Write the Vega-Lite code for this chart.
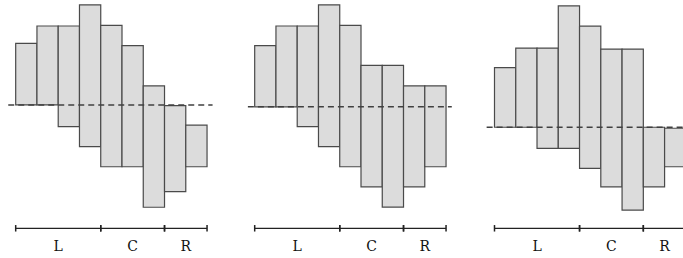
{
  "$schema": "https://vega.github.io/schema/vega-lite/v6.json",
  "padding": 0,
  "spacing": 0,
  "config": {"view": {"stroke": null}},
  "datasets": {
    "bars": [
      {"panel": "A", "bar": 1, "start": 0, "end": 1, "low": 6.09, "high": 9.13},
      {"panel": "A", "bar": 2, "start": 1, "end": 2, "low": 6.09, "high": 9.99},
      {"panel": "A", "bar": 3, "start": 2, "end": 3, "low": 5.02, "high": 9.99},
      {"panel": "A", "bar": 4, "start": 3, "end": 4, "low": 4.03, "high": 11.03},
      {"panel": "A", "bar": 5, "start": 4, "end": 5, "low": 3.04, "high": 10.02},
      {"panel": "A", "bar": 6, "start": 5, "end": 6, "low": 3.04, "high": 9.02},
      {"panel": "A", "bar": 7, "start": 6, "end": 7, "low": 1.04, "high": 7.03},
      {"panel": "A", "bar": 8, "start": 7, "end": 8, "low": 1.81, "high": 6.06},
      {"panel": "A", "bar": 9, "start": 8, "end": 9, "low": 3.04, "high": 5.09},
      {"panel": "B", "bar": 1, "start": 0, "end": 1, "low": 6.0, "high": 9.02},
      {"panel": "B", "bar": 2, "start": 1, "end": 2, "low": 6.0, "high": 9.99},
      {"panel": "B", "bar": 3, "start": 2, "end": 3, "low": 5.02, "high": 9.99},
      {"panel": "B", "bar": 4, "start": 3, "end": 4, "low": 4.03, "high": 11.03},
      {"panel": "B", "bar": 5, "start": 4, "end": 5, "low": 3.04, "high": 10.02},
      {"panel": "B", "bar": 6, "start": 5, "end": 6, "low": 2.05, "high": 8.05},
      {"panel": "B", "bar": 7, "start": 6, "end": 7, "low": 1.05, "high": 8.05},
      {"panel": "B", "bar": 8, "start": 7, "end": 8, "low": 2.05, "high": 7.03},
      {"panel": "B", "bar": 9, "start": 8, "end": 9, "low": 3.04, "high": 7.03},
      {"panel": "C", "bar": 1, "start": 0, "end": 1, "low": 4.99, "high": 7.93},
      {"panel": "C", "bar": 2, "start": 1, "end": 2, "low": 4.99, "high": 8.9},
      {"panel": "C", "bar": 3, "start": 2, "end": 3, "low": 3.95, "high": 8.9},
      {"panel": "C", "bar": 4, "start": 3, "end": 4, "low": 3.95, "high": 10.98},
      {"panel": "C", "bar": 5, "start": 4, "end": 5, "low": 2.96, "high": 9.98},
      {"panel": "C", "bar": 6, "start": 5, "end": 6, "low": 2.05, "high": 8.85},
      {"panel": "C", "bar": 7, "start": 6, "end": 7, "low": 0.9, "high": 8.85},
      {"panel": "C", "bar": 8, "start": 7, "end": 8, "low": 2.05, "high": 4.99},
      {"panel": "C", "bar": 9, "start": 8, "end": 9, "low": 3.04, "high": 4.94}
    ],
    "baselines": [
      {"panel": "A", "level": 6.09, "start": -0.35, "end": 9.26},
      {"panel": "B", "level": 6.0, "start": -0.32, "end": 9.27},
      {"panel": "C", "level": 4.99, "start": -0.37, "end": 9.3}
    ],
    "segments": [
      {"panel": "A", "zone": "L", "start": 0, "end": 4},
      {"panel": "A", "zone": "C", "start": 4, "end": 7},
      {"panel": "A", "zone": "R", "start": 7, "end": 9},
      {"panel": "B", "zone": "L", "start": 0, "end": 4},
      {"panel": "B", "zone": "C", "start": 4, "end": 7},
      {"panel": "B", "zone": "R", "start": 7, "end": 9},
      {"panel": "C", "zone": "L", "start": 0, "end": 4},
      {"panel": "C", "zone": "C", "start": 4, "end": 7},
      {"panel": "C", "zone": "R", "start": 7, "end": 9}
    ]
  },
  "hconcat": [
    {
      "width": 239, "height": 258,
      "layer": [
        {"data": {"name": "bars"}, "transform": [{"filter": "datum.panel === 'A'"}],
         "mark": {"type": "rect", "fill": "#dcdcdc", "stroke": "#4a4a4a", "strokeWidth": 1.2, "clip": true},
         "encoding": {
           "x": {"field": "start", "type": "quantitative", "scale": {"domain": [-0.738, 10.503], "nice": false, "zero": false}, "axis": null},
           "x2": {"field": "end"},
           "y": {"field": "high", "type": "quantitative", "scale": {"domain": [-1.467, 11.274], "nice": false, "zero": false}, "axis": null},
           "y2": {"field": "low"}}},
        {"data": {"name": "baselines"}, "transform": [{"filter": "datum.panel === 'A'"}],
         "mark": {"type": "rule", "stroke": "#404040", "strokeWidth": 1.6, "strokeDash": [6, 4], "clip": true},
         "encoding": {"x": {"field": "start", "type": "quantitative"}, "x2": {"field": "end"}, "y": {"field": "level", "type": "quantitative"}}},
        {"data": {"name": "segments"}, "transform": [{"filter": "datum.panel === 'A'"}],
         "mark": {"type": "rule", "stroke": "#222222", "strokeWidth": 1.2, "clip": true},
         "encoding": {"x": {"field": "start", "type": "quantitative"}, "x2": {"field": "end"}, "y": {"datum": 0}}},
        {"data": {"name": "segments"}, "transform": [{"filter": "datum.panel === 'A'"}],
         "mark": {"type": "rule", "stroke": "#222222", "strokeWidth": 1.5, "clip": true},
         "encoding": {"x": {"field": "start", "type": "quantitative"}, "y": {"datum": -0.16}, "y2": {"datum": 0.16}}},
        {"data": {"name": "segments"}, "transform": [{"filter": "datum.panel === 'A'"}],
         "mark": {"type": "rule", "stroke": "#222222", "strokeWidth": 1.5, "clip": true},
         "encoding": {"x": {"field": "end", "type": "quantitative"}, "y": {"datum": -0.16}, "y2": {"datum": 0.16}}},
        {"data": {"name": "segments"}, "transform": [{"filter": "datum.panel === 'A'"}, {"calculate": "(datum.start + datum.end) / 2", "as": "mid"}],
         "mark": {"type": "text", "font": "DejaVu Serif", "fontSize": 14, "color": "#111111", "baseline": "alphabetic", "align": "center"},
         "encoding": {"x": {"field": "mid", "type": "quantitative"}, "y": {"datum": -1.12}, "text": {"field": "zone"}}}
      ]
    },
    {
      "width": 240, "height": 258,
      "layer": [
        {"data": {"name": "bars"}, "transform": [{"filter": "datum.panel === 'B'"}],
         "mark": {"type": "rect", "fill": "#dcdcdc", "stroke": "#4a4a4a", "strokeWidth": 1.2, "clip": true},
         "encoding": {
           "x": {"field": "start", "type": "quantitative", "scale": {"domain": [-0.738, 10.55], "nice": false, "zero": false}, "axis": null},
           "x2": {"field": "end"},
           "y": {"field": "high", "type": "quantitative", "scale": {"domain": [-1.467, 11.274], "nice": false, "zero": false}, "axis": null},
           "y2": {"field": "low"}}},
        {"data": {"name": "baselines"}, "transform": [{"filter": "datum.panel === 'B'"}],
         "mark": {"type": "rule", "stroke": "#404040", "strokeWidth": 1.6, "strokeDash": [6, 4], "clip": true},
         "encoding": {"x": {"field": "start", "type": "quantitative"}, "x2": {"field": "end"}, "y": {"field": "level", "type": "quantitative"}}},
        {"data": {"name": "segments"}, "transform": [{"filter": "datum.panel === 'B'"}],
         "mark": {"type": "rule", "stroke": "#222222", "strokeWidth": 1.2, "clip": true},
         "encoding": {"x": {"field": "start", "type": "quantitative"}, "x2": {"field": "end"}, "y": {"datum": 0}}},
        {"data": {"name": "segments"}, "transform": [{"filter": "datum.panel === 'B'"}],
         "mark": {"type": "rule", "stroke": "#222222", "strokeWidth": 1.5, "clip": true},
         "encoding": {"x": {"field": "start", "type": "quantitative"}, "y": {"datum": -0.16}, "y2": {"datum": 0.16}}},
        {"data": {"name": "segments"}, "transform": [{"filter": "datum.panel === 'B'"}],
         "mark": {"type": "rule", "stroke": "#222222", "strokeWidth": 1.5, "clip": true},
         "encoding": {"x": {"field": "end", "type": "quantitative"}, "y": {"datum": -0.16}, "y2": {"datum": 0.16}}},
        {"data": {"name": "segments"}, "transform": [{"filter": "datum.panel === 'B'"}, {"calculate": "(datum.start + datum.end) / 2", "as": "mid"}],
         "mark": {"type": "text", "font": "DejaVu Serif", "fontSize": 14, "color": "#111111", "baseline": "alphabetic", "align": "center"},
         "encoding": {"x": {"field": "mid", "type": "quantitative"}, "y": {"datum": -1.12}, "text": {"field": "zone"}}}
      ]
    },
    {
      "width": 204, "height": 258,
      "layer": [
        {"data": {"name": "bars"}, "transform": [{"filter": "datum.panel === 'C'"}],
         "mark": {"type": "rect", "fill": "#dcdcdc", "stroke": "#4a4a4a", "strokeWidth": 1.2, "clip": true},
         "encoding": {
           "x": {"field": "start", "type": "quantitative", "scale": {"domain": [-0.729, 8.866], "nice": false, "zero": false}, "axis": null},
           "x2": {"field": "end"},
           "y": {"field": "high", "type": "quantitative", "scale": {"domain": [-1.467, 11.274], "nice": false, "zero": false}, "axis": null},
           "y2": {"field": "low"}}},
        {"data": {"name": "baselines"}, "transform": [{"filter": "datum.panel === 'C'"}],
         "mark": {"type": "rule", "stroke": "#404040", "strokeWidth": 1.6, "strokeDash": [6, 4], "clip": true},
         "encoding": {"x": {"field": "start", "type": "quantitative"}, "x2": {"field": "end"}, "y": {"field": "level", "type": "quantitative"}}},
        {"data": {"name": "segments"}, "transform": [{"filter": "datum.panel === 'C'"}],
         "mark": {"type": "rule", "stroke": "#222222", "strokeWidth": 1.2, "clip": true},
         "encoding": {"x": {"field": "start", "type": "quantitative"}, "x2": {"field": "end"}, "y": {"datum": 0}}},
        {"data": {"name": "segments"}, "transform": [{"filter": "datum.panel === 'C'"}],
         "mark": {"type": "rule", "stroke": "#222222", "strokeWidth": 1.5, "clip": true},
         "encoding": {"x": {"field": "start", "type": "quantitative"}, "y": {"datum": -0.16}, "y2": {"datum": 0.16}}},
        {"data": {"name": "segments"}, "transform": [{"filter": "datum.panel === 'C'"}],
         "mark": {"type": "rule", "stroke": "#222222", "strokeWidth": 1.5, "clip": true},
         "encoding": {"x": {"field": "end", "type": "quantitative"}, "y": {"datum": -0.16}, "y2": {"datum": 0.16}}},
        {"data": {"name": "segments"}, "transform": [{"filter": "datum.panel === 'C'"}, {"calculate": "(datum.start + datum.end) / 2", "as": "mid"}],
         "mark": {"type": "text", "font": "DejaVu Serif", "fontSize": 14, "color": "#111111", "baseline": "alphabetic", "align": "center", "clip": true},
         "encoding": {"x": {"field": "mid", "type": "quantitative"}, "y": {"datum": -1.12}, "text": {"field": "zone"}}}
      ]
    }
  ]
}
